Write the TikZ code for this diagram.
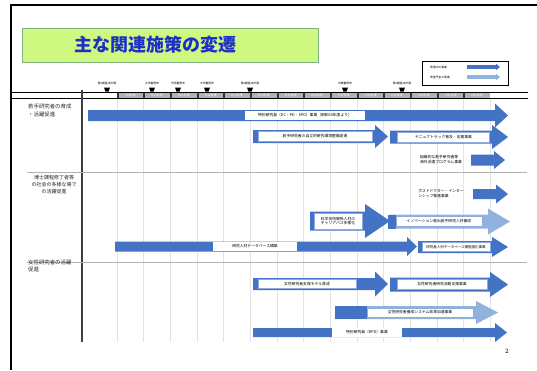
\documentclass[tikz,border=0pt]{standalone}
\usepackage{fontspec}
\newfontfamily\jp{Noto Sans CJK JP}
\definecolor{barblue}{RGB}{68,114,196}
\definecolor{lightblue}{RGB}{146,178,222}
\definecolor{titlegreen}{RGB}{206,248,128}
\definecolor{titleblue}{RGB}{28,48,200}
\newcommand\arw[7][barblue]{\fill[#1] (#2,#4-#5) -- (#3-#7,#4-#5) -- (#3-#7,#4-#6) -- (#3,#4) -- (#3-#7,#4+#6) -- (#3-#7,#4+#5) -- (#2,#4+#5) -- cycle;}
\tikzset{
  lbl/.style={font=\jp\fontsize{3.8}{4.6}\selectfont, inner sep=0pt, text=black},
  lblbox/.style={lbl, fill=white, draw=barblue!60, line width=0.3pt, inner sep=0pt},
  rowlbl/.style={font=\jp\fontsize{5.4}{8}\selectfont, inner sep=0pt, text=black!85},
  yr/.style={font=\jp\fontsize{3}{3.5}\selectfont, inner sep=0pt, text=white},
  mk/.style={font=\jp\fontsize{2.8}{3.2}\selectfont, inner sep=0pt, text=black},
  grid/.style={gray!22, line width=0.6pt},
  sep/.style={gray!60, line width=1pt}
}
\begin{document}
\begin{tikzpicture}[x=1pt,y=-1pt]
\useasboundingbox (0,0) rectangle (537,370);
\fill[white] (0,0) rectangle (537,370);
% slide frame
\draw[line width=1.2pt] (11,370) -- (11,5) -- (537,5);
% title
\node[fill=titlegreen, draw=green!40!black!50, line width=0.4pt, minimum width=296pt, minimum height=34pt, inner sep=0pt] (titlebox) at (170,45) {};
\node[font=\jp\bfseries\fontsize{18}{20}\selectfont, text=titleblue, inner sep=0pt] (title) at (155,45) {主な関連施策の変遷};
% legend
\node[draw=black, line width=0.5pt, fill=white, minimum width=86pt, minimum height=24pt, inner sep=0pt] (legend) at (465,73) {};
\node[mk, anchor=west] (leg1) at (430,67) {実施中の事業};
\node[mk, anchor=west] (leg2) at (430,77) {実施予定の事業};
\arw{467}{500}{67}{1.8}{3.2}{4}
\arw[lightblue]{467}{500}{77}{1.8}{3.2}{4}
% grid lines
\foreach \x in {117,143,170,197,223,250,277,303,330,357,383,410,437,463,490}
  \draw[grid] (\x,99) -- (\x,342);
% header band
\fill[gray!60] (117,92.5) rectangle (490,98);
\foreach \x/\t [count=\i] in {117/H9,143/H10,170/H11,197/H12,223/H13,250/H14,277/H15,303/H16,330/H17,357/H18,383/H19,410/H20,437/H21,463/H22}{
  \fill[black!80] (\x,92.5) rectangle (\x+2.2,98);
  \node[yr] (yr\i) at (\x+14,95.3) {\t 年度};
}
\draw[line width=0.8pt] (12,92) -- (528,92);
\draw[line width=1.2pt] (12,98.7) -- (528,98.7);
% markers
\foreach \x/\t [count=\i] in {107/第1期基本計画,152/大学審答申,178/学術審答申,207/大学審答申,250/第2期基本計画,345/中教審答申,402/第3期基本計画}{
  \fill (\x-3,87.5) -- (\x+3,87.5) -- (\x+1.6,91.5) -- (\x-1.6,91.5) -- cycle;
  \node[mk] (mk\i) at (\x,83.5) {\t};
}
% axis
\draw[line width=1.6pt, black!75] (82,90) -- (82,342);
% row separators
\draw[sep] (27,172.5) -- (527,172.5);
\draw[sep] (27,262) -- (527,262);
% row labels
\node[rowlbl, anchor=north west, align=left] (row1) at (28,103.5) {若手研究者の育成\\・活躍促進};
\node[rowlbl, anchor=north, align=center, font=\jp\fontsize{5}{6.8}\selectfont] (row2) at (54,175.5) {博士課程修了者等\\の社会の多様な場で\\の活躍促進};
\node[rowlbl, anchor=north west, align=left, font=\jp\fontsize{5.4}{7}\selectfont] (row3) at (28,260) {女性研究者の活躍\\促進};
% ---- row 1
\arw{88}{508}{115.5}{5.5}{12}{13}
\node[lbl, fill=white, minimum width=120pt, minimum height=9pt] (a1) at (305,115.5) {特別研究員（DC・PD・SPD）事業（昭和60年度より）};
\arw{253}{388}{136.5}{6.5}{11.5}{13}
\node[lblbox, minimum width=114pt, minimum height=10pt] (b1) at (315,136.5) {若手研究者の自立的研究環境整備促進};
\arw{390}{508}{137}{6.5}{12}{16}
\node[lblbox, minimum width=92pt, minimum height=10pt] (c1) at (443.5,137) {テニュアトラック普及・定着事業};
\node[lbl, align=left] (d1) at (441,159.5) {組織的な若手研究者等\\海外派遣プログラム事業};
\arw{471}{505}{160}{5.5}{9}{11}
% ---- row 2
\node[lbl, align=left] (d2) at (441,193.5) {ポストドクター・インター\\ンシップ推進事業};
\arw{473}{508}{194}{5}{9.5}{12}
\arw{310}{390}{221}{9.5}{17}{25}
\node[lblbox, align=center, minimum width=48pt, minimum height=16pt] (e1) at (338,221) {科学技術関係人材の\\キャリアパス多様化};
\arw[lightblue]{390}{510}{221.5}{7}{13}{22}
\fill[barblue] (388,214.5) rectangle (396,228.5);
\node[lblbox, minimum width=86pt, minimum height=10pt] (e2) at (439,221.5) {イノベーション創出若手研究人材養成};
\arw{115}{417}{246.5}{5}{9.5}{10}
\node[lbl, fill=white, minimum width=84pt, minimum height=9pt] (f1) at (255,246.5) {研究人材データベース構築};
\arw{418}{508}{247}{6}{10}{16}
\node[lblbox, font=\jp\fontsize{3.5}{4}\selectfont, minimum width=68pt, minimum height=9pt] (f2) at (456,247) {研究者人材データベース機能強化事業};
% ---- row 3
\arw{253}{388}{284}{6}{12.5}{13}
\node[lblbox, minimum width=98pt, minimum height=9pt] (g1) at (307,284) {女性研究者支援モデル育成};
\arw{390}{508}{284.5}{7}{12.5}{18}
\node[lblbox, minimum width=90pt, minimum height=10pt] (h1) at (442,284.5) {女性研究者研究活動支援事業};
\arw[lightblue]{335}{498}{312.5}{6.5}{11.5}{22}
\fill[barblue] (335,306) rectangle (367,319);
\node[lblbox, minimum width=106pt, minimum height=9pt] (i1) at (420,312.5) {女性研究者養成システム改革加速事業};
\arw{253}{507}{332.5}{4.5}{9.5}{12}
\node[lbl, fill=white, minimum width=70pt, minimum height=9pt] (j1) at (367,332.5) {特別研究員（RPD）事業};
% page number
\node[font=\jp\fontsize{6}{7}\selectfont, inner sep=0pt] (pg) at (507,351) {2};
\end{tikzpicture}
\end{document}
